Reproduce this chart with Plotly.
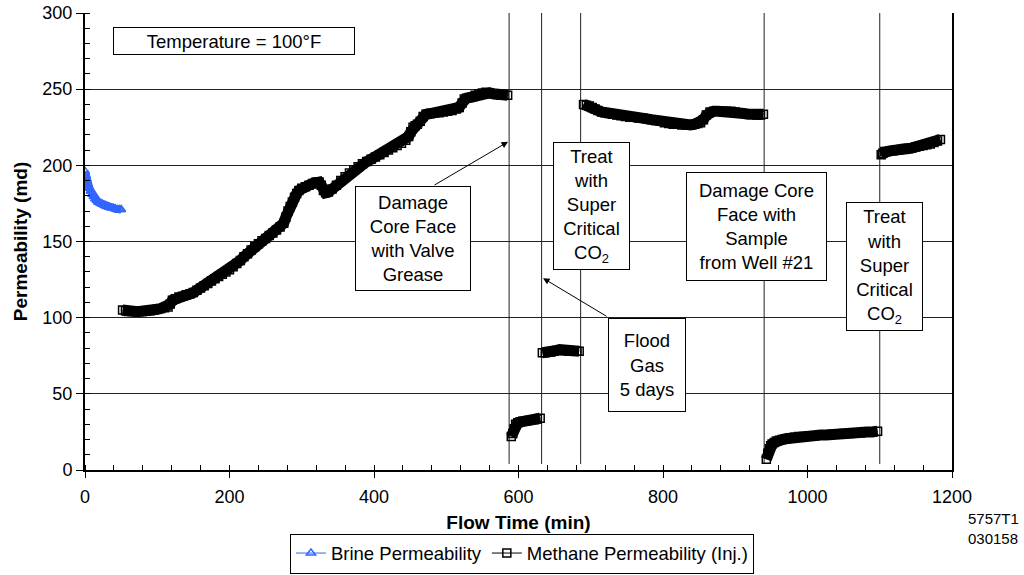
import plotly.graph_objects as go

# ---------------- data ----------------
brine_time = [0, 1, 2, 3, 4, 5, 6, 8, 10, 12, 14, 16, 18, 20, 22, 24, 26, 28, 30, 33, 36, 39, 42, 45, 48, 50]
brine_perm = [196, 193, 191, 189, 187.5, 186, 185, 183, 181, 179.5, 178, 177, 176, 175.5, 175, 174.5, 174,
              173.5, 173, 172.5, 172, 172, 171.5, 171, 171, 171]

seg1_time = [52, 56, 60, 65, 70, 75, 80, 85, 90, 95, 100, 105, 110, 115, 118, 121, 125, 130, 135, 140, 145,
             150, 155, 160, 165, 170, 175, 180, 185, 190, 195, 200, 205, 210, 215, 220, 225, 230, 235, 240,
             245, 250, 255, 260, 265, 270, 275, 278, 281, 284, 287, 290, 293, 296, 300, 305, 310, 315, 320,
             324, 327, 330, 333, 337, 342, 348, 354, 360, 366, 372, 378, 384, 390, 396, 402, 408, 414, 420,
             426, 432, 438, 444, 448, 451, 454, 457, 460, 464, 468, 472, 478, 484, 490, 496, 502, 508, 514,
             518, 522, 525, 528, 532, 536, 540, 545, 550, 555, 560, 565, 570, 575, 580, 585]
seg1_perm = [105, 104.5, 104, 104, 104, 104, 104, 104.2, 104.5, 105, 105.5, 106, 106.5, 107, 109, 111.5,
             112.5, 113.5, 114, 115, 115.5, 116.5, 118, 119.5, 121, 122.5, 124, 125.5, 127, 128.5, 130,
             131.5, 133.5, 135.5, 137.5, 140, 142, 144.5, 146.5, 148.5, 150.5, 152, 154, 155.5, 157.5,
             159.5, 162, 166, 170, 173, 176, 179, 181.5, 183.5, 185, 186, 187, 188, 189, 189, 187, 183.5,
             182, 182.5, 184.5, 187, 190, 192.5, 195, 197, 199, 201, 202.5, 204, 205.5, 207, 208.5, 210,
             211.5, 213, 214.5, 216.5, 219, 222, 225, 226, 227, 229, 232, 233.5, 234, 234.5, 234.5, 235,
             235.5, 236, 237, 238, 241, 243.5, 244, 244.5, 245, 246, 247, 247.5, 248, 247.5, 247, 246.5,
             246, 246, 246]

seg2_time = [590, 592, 594, 596, 599, 602, 606, 610, 614, 618, 622, 626, 630]
seg2_perm = [22, 24, 27, 30, 31, 31.5, 32, 32, 32.5, 33, 33, 33.5, 34]

seg3_time = [633, 637, 641, 645, 649, 653, 657, 661, 665, 669, 673, 677, 681, 684]
seg3_perm = [77, 77, 77.5, 77.5, 78, 78.5, 79, 79, 78.5, 78, 78, 78, 78, 78]

seg4_time = [690, 694, 698, 702, 706, 710, 715, 720, 725, 730, 736, 742, 748, 754, 760, 766, 772, 778,
             784, 790, 796, 802, 808, 814, 820, 826, 832, 838, 844, 848, 852, 856, 860, 865, 870, 876,
             882, 888, 894, 900, 906, 912, 918, 924, 930, 935, 939]
seg4_perm = [240, 239.5, 239, 238, 237, 236, 235, 234.5, 234, 233.5, 233, 232.5, 232, 231.5, 231.5, 231,
             231, 230.5, 230, 229.5, 229, 228, 227.5, 227, 227, 226.5, 226.5, 226.5, 227, 227.5, 228, 230,
             233, 235, 235.5, 235.5, 235.5, 235.5, 235.5, 235, 234.5, 234, 233.5, 233.5, 233, 233, 233.5]

seg5_time = [943, 945, 947, 949, 951, 954, 957, 961, 965, 970, 976, 982, 988, 995, 1002, 1010, 1018,
             1026, 1034, 1042, 1050, 1058, 1066, 1074, 1082, 1090, 1097]
seg5_perm = [7, 11, 14, 16, 17, 18, 19, 19.5, 20, 20.5, 21, 21.5, 22, 22, 22.5, 22.5, 23, 23, 23.5, 23.5,
             24, 24, 24.5, 24.5, 25, 25, 25.5]

seg6_time = [1102, 1104, 1107, 1110, 1114, 1118, 1122, 1126, 1130, 1135, 1140, 1145, 1150, 1155, 1160,
             1165, 1170, 1175, 1180, 1184]
seg6_perm = [207, 208, 209, 209, 209.5, 209.5, 210, 210, 210.5, 211, 211, 211.5, 212, 212.5, 213, 213.5,
             214, 215, 216, 217]

event_times = [587, 632, 686, 940, 1100]

x_ticks = [0, 200, 400, 600, 800, 1000, 1200]
y_ticks = [0, 50, 100, 150, 200, 250, 300]

# ---------------- build ----------------
segments = [(seg1_time, seg1_perm), (seg2_time, seg2_perm), (seg3_time, seg3_perm),
            (seg4_time, seg4_perm), (seg5_time, seg5_perm), (seg6_time, seg6_perm)]
meth_x, meth_y = [], []
for sx, sy in segments:
    meth_x += list(sx) + [None]
    meth_y += list(sy) + [None]

FONT = "Arial, Liberation Sans, sans-serif"
BLUE = "#3366FF"

fig = go.Figure()

# dense-band look (no legend)
fig.add_trace(go.Scatter(x=brine_time, y=brine_perm, mode="lines", showlegend=False, hoverinfo="skip",
                         line=dict(color=BLUE, width=8)))
fig.add_trace(go.Scatter(x=meth_x, y=meth_y, mode="lines", showlegend=False, hoverinfo="skip",
                         connectgaps=False, line=dict(color="black", width=11)))

fig.add_trace(go.Scatter(x=brine_time, y=brine_perm, mode="lines+markers", name="Brine Permeability",
                         line=dict(color=BLUE, width=1),
                         marker=dict(symbol="triangle-up-open", size=8, color=BLUE, line=dict(width=1.5))))
fig.add_trace(go.Scatter(x=meth_x, y=meth_y, mode="lines+markers", name="Methane Permeability (Inj.)",
                         connectgaps=False, line=dict(color="black", width=1),
                         marker=dict(symbol="square-open", size=8, color="black", line=dict(width=1.5))))

for t in event_times:
    fig.add_shape(type="line", x0=t, x1=t, y0=4, y1=300, xref="x", yref="y",
                  line=dict(color="#222222", width=1), layer="below")

# annotation boxes
boxes = [
    (206.2, 281.5, 240, 26, "Temperature = 100°F"),
    (454.0, 152.0, 114, 103, "Damage<br>Core Face<br>with Valve<br>Grease"),
    (701.0, 173.3, 75, 126, "Treat<br>with<br>Super<br>Critical<br>CO<sub>2</sub>"),
    (777.9, 68.9, 76, 92, "Flood<br>Gas<br>5 days"),
    (929.4, 159.9, 139, 107, "Damage Core<br>Face with<br>Sample<br>from Well #21"),
    (1106.6, 133.6, 75, 127, "Treat<br>with<br>Super<br>Critical<br>CO<sub>2</sub>"),
]
for bx, by, bw, bh, txt in boxes:
    fig.add_annotation(x=bx, y=by, xref="x", yref="y", text=txt, showarrow=False,
                       width=bw, height=bh, align="center", valign="middle",
                       bgcolor="white", bordercolor="black", borderwidth=1, borderpad=0,
                       font=dict(family=FONT, size=18.5, color="black"))

# arrows
arrows = [((481.7, 186.5), (585.5, 215.4)), ((724.0, 100.3), (634.0, 125.9))]
for (tx, ty), (hx, hy) in arrows:
    fig.add_annotation(x=hx, y=hy, ax=tx, ay=ty, xref="x", yref="y", axref="x", ayref="y",
                       text="", showarrow=True, arrowhead=2, arrowsize=1.3, arrowwidth=1,
                       arrowcolor="black", standoff=0, startstandoff=0)

fig.add_annotation(x=1.016, y=-0.128, xref="paper", yref="paper", text="5757T1<br>030158",
                   showarrow=False, xanchor="left", yanchor="middle", align="left",
                   font=dict(family=FONT, size=15, color="black"))

fig.update_layout(
    width=1024, height=575,
    margin=dict(l=85, r=72, t=13, b=105, autoexpand=False),
    paper_bgcolor="white", plot_bgcolor="white",
    font=dict(family=FONT, size=18, color="black"),
    showlegend=True,
    legend=dict(orientation="h", x=0.504, y=-0.2265, xanchor="center", yanchor="bottom",
                bordercolor="black", borderwidth=1, bgcolor="white",
                font=dict(family=FONT, size=18.5, color="black"),
                tracegroupgap=0),
)
fig.update_xaxes(range=[0, 1200], tickvals=x_ticks, ticktext=[str(v) for v in x_ticks], automargin=False,
                 showgrid=False, zeroline=False, showline=True, linecolor="black", linewidth=2,
                 ticks="outside", ticklen=6, tickwidth=1, tickcolor="black", ticklabelstandoff=3,
                 minor=dict(dtick=40, ticks="inside", ticklen=5, tickcolor="black", showgrid=False),
                 tickfont=dict(family=FONT, size=18),
                 title=dict(text="<b>Flow Time (min)</b>", font=dict(family=FONT, size=19), standoff=10))
fig.update_yaxes(range=[0, 300], tickvals=y_ticks, ticktext=[str(v) for v in y_ticks], automargin=False,
                 showgrid=True, gridcolor="#222222", gridwidth=1, zeroline=False,
                 showline=True, linecolor="black", linewidth=2, mirror=True,
                 ticks="outside", ticklen=7, tickwidth=1, tickcolor="black",
                 minor=dict(dtick=10, ticks="inside", ticklen=5, tickcolor="black", showgrid=False),
                 tickfont=dict(family=FONT, size=18),
                 title=dict(text="<b>Permeability (md)</b>", font=dict(family=FONT, size=19), standoff=10))

fig.write_html("out.html")
